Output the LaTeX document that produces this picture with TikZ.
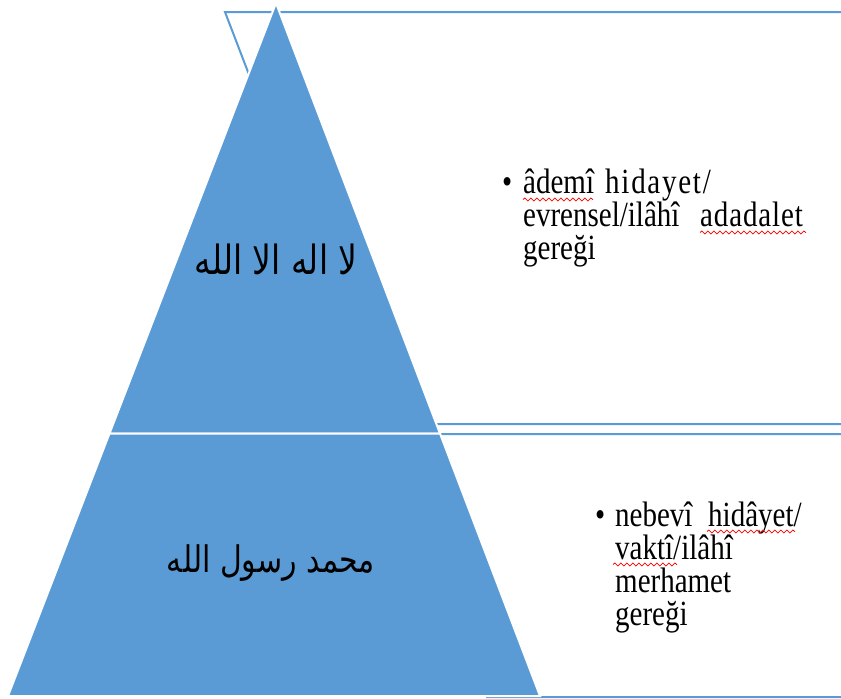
\documentclass[tikz,border=0pt]{standalone}
\usepackage{fontspec}
\setmainfont{Liberation Serif}
\newfontfamily\arabicfont[Script=Arabic]{DejaVu Sans}
\TeXXeTstate=1
\usetikzlibrary{decorations.pathmorphing}
\definecolor{pyr}{RGB}{91,155,213}
\newcommand{\vst}[1]{\scalebox{1}[1.22]{#1}}
\begin{document}
\begin{tikzpicture}[x=1pt,y=-1pt,
  boxline/.style={draw=pyr, line width=2pt},
  seg/.style={fill=pyr, draw=white, line width=2pt},
  ar/.style={inner sep=0pt},
  txt/.style={anchor=base west, inner sep=0pt, font=\fontsize{29}{33}\selectfont},
  squig/.style={draw=red, line width=0.8pt, decorate, decoration={snake, amplitude=1.5pt, segment length=6pt}}]
\useasboundingbox (0,0) rectangle (841,699);
% text boxes behind the pyramid
\draw[boxline] (841,12) -- (225,12) -- (383,424) -- (841,424);
\draw[boxline] (841,434) -- (385,434) -- (487,697) -- (841,697);
% pyramid
\coordinate (apex) at (276,3);
\coordinate (ml) at (109.5,433.5);
\coordinate (mr) at (440,433.5);
\coordinate (bl) at (8,696);
\coordinate (br) at (540,696);
\path[seg] (apex) -- (mr) -- (ml) -- cycle;
\path[seg] (ml) -- (mr) -- (br) -- (bl) -- cycle;
% arabic labels
\node[ar] (a1) at (276,259) {\vst{\arabicfont\fontsize{33}{36}\selectfont\beginR لا اله الا الله\endR}};
\node[ar] (a2) at (271,563) {\vst{\arabicfont\fontsize{30}{34}\selectfont\beginR محمد رسول الله\endR}};
% bullet text 1
\node[txt] (b1) at (502,193) {\vst{•}};
\node[txt] (l11) at (523,193) {\vst{\makebox[82pt][l]{âdemî}{\addfontfeature{LetterSpace=6}hidayet/}}};
\node[txt] (l12) at (523,226) {\vst{\makebox[177pt][l]{evrensel/ilâhî}{\addfontfeature{LetterSpace=3}adadalet}}};
\node[txt] (l13) at (523,259) {\vst{gereği}};
% bullet text 2
\node[txt] (b2) at (595,526) {\vst{•}};
\node[txt] (l21) at (615,526) {\vst{\makebox[93pt][l]{nebevî}hidâyet/}};
\node[txt] (l22) at (615,559) {\vst{vaktî/ilâhî}};
\node[txt] (l23) at (615,592) {\vst{merhamet}};
\node[txt] (l24) at (615,625) {\vst{gereği}};
% spelling marks
\draw[squig] (523,199.5) -- (593,199.5);
\draw[squig] (700,232.5) -- (806,232.5);
\draw[squig] (707,531.5) -- (795,531.5);
\draw[squig] (613,564.5) -- (677,564.5);
\end{tikzpicture}
\end{document}
